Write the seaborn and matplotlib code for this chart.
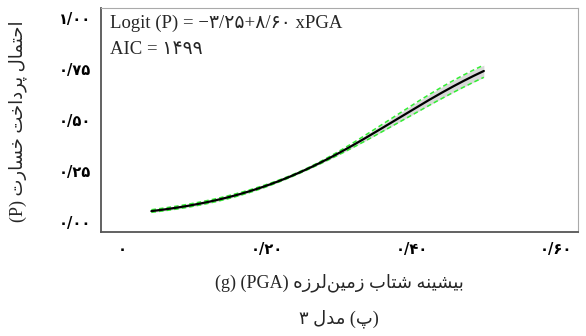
import numpy as np
import pandas as pd
import matplotlib
matplotlib.use("Agg")
import matplotlib.pyplot as plt
import seaborn as sns

# Fitted logistic model: Logit(P) = b0 + b1 * PGA
intercept = -3.25
slope = 8.60
aic = 1499
# Coefficient uncertainty (standard errors and covariance) for the 95% band
se_intercept = 0.0796
se_slope = 0.316
cov_b0_b1 = -0.0249
pga_start, pga_end = 0.04, 0.50

x_ticks = [0.0, 0.2, 0.4, 0.6]
x_tick_labels = ["۰", "۰/۲۰", "۰/۴۰", "۰/۶۰"]
y_ticks = [0.0, 0.25, 0.5, 0.75, 1.0]
y_tick_labels = ["۰/۰۰", "۰/۲۵", "۰/۵۰", "۰/۷۵", "۱/۰۰"]

y_title = "احتمال پرداخت خسارت"
x_title = "بیشینه شتاب زمین\u200cلرزه"
caption_word = "مدل"
caption_letter = "پ"
caption_num = "۳"

# --- Persian contextual shaping (matplotlib draws glyphs without shaping) ---
FORMS = {
    'ا': ('\uFE8D', '\uFE8E', None, None),
    'ب': ('\uFE8F', '\uFE90', '\uFE91', '\uFE92'),
    'پ': ('\uFB56', '\uFB57', '\uFB58', '\uFB59'),
    'ت': ('\uFE95', '\uFE96', '\uFE97', '\uFE98'),
    'ح': ('\uFEA1', '\uFEA2', '\uFEA3', '\uFEA4'),
    'خ': ('\uFEA5', '\uFEA6', '\uFEA7', '\uFEA8'),
    'د': ('\uFEA9', '\uFEAA', None, None),
    'ر': ('\uFEAD', '\uFEAE', None, None),
    'ز': ('\uFEAF', '\uFEB0', None, None),
    'س': ('\uFEB1', '\uFEB2', '\uFEB3', '\uFEB4'),
    'ش': ('\uFEB5', '\uFEB6', '\uFEB7', '\uFEB8'),
    'ل': ('\uFEDD', '\uFEDE', '\uFEDF', '\uFEE0'),
    'م': ('\uFEE1', '\uFEE2', '\uFEE3', '\uFEE4'),
    'ن': ('\uFEE5', '\uFEE6', '\uFEE7', '\uFEE8'),
    'ه': ('\uFEE9', '\uFEEA', '\uFEEB', '\uFEEC'),
    'ی': ('\uFBFC', '\uFBFD', '\uFBFE', '\uFBFF'),
}


def shape(text):
    out = []
    for i, ch in enumerate(text):
        if ch == '\u200c':
            continue
        if ch not in FORMS:
            out.append(ch)
            continue
        prev = text[i - 1] if i > 0 else ''
        nxt = text[i + 1] if i + 1 < len(text) else ''
        jp = prev in FORMS and FORMS[prev][2] is not None
        jn = FORMS[ch][2] is not None and nxt in FORMS
        iso, fin, ini, med = FORMS[ch]
        if jp and jn:
            out.append(med)
        elif jp:
            out.append(fin)
        elif jn:
            out.append(ini)
        else:
            out.append(iso)
    return ''.join(out)


def fa(text):
    """Shape a right-to-left phrase and put it in display order."""
    return shape(text)[::-1]


FA_DIGITS = str.maketrans("0123456789.", "۰۱۲۳۴۵۶۷۸۹/")


def fa_num(value, fmt):
    return format(value, fmt).translate(FA_DIGITS)


# --- model curve and confidence band ---
pga = np.linspace(pga_start, pga_end, 200)
eta = intercept + slope * pga
se = np.sqrt(se_intercept**2 + 2 * cov_b0_b1 * pga + se_slope**2 * pga**2)
expit = lambda z: 1.0 / (1.0 + np.exp(-z))
df = pd.DataFrame({
    "PGA": pga,
    "P": expit(eta),
    "lower": expit(eta - 1.96 * se),
    "upper": expit(eta + 1.96 * se),
})

sns.set_style("white")
plt.rcParams["font.family"] = ["Liberation Serif", "DejaVu Sans"]

fig = plt.figure(figsize=(5.86, 3.36), dpi=100)
ax = fig.add_axes([0.172, 0.310, 0.814, 0.666])

ax.fill_between(df["PGA"], df["lower"], df["upper"], color="#d0d0d0", alpha=0.8, lw=0)
sns.lineplot(data=df, x="PGA", y="lower", ax=ax, color="#33ee33", lw=1.1, linestyle=(0, (3, 2)))
sns.lineplot(data=df, x="PGA", y="upper", ax=ax, color="#33ee33", lw=1.1, linestyle=(0, (3, 2)))
sns.lineplot(data=df, x="PGA", y="P", ax=ax, color="black", lw=1.6)

ax.set_xlim(-0.03, 0.63)
ax.set_ylim(-0.05, 1.05)
ax.set_xticks(x_ticks)
ax.set_xticklabels(x_tick_labels, fontsize=10.5, family=["DejaVu Sans"], fontweight="bold")
ax.set_yticks(y_ticks)
ax.set_yticklabels(y_tick_labels, fontsize=10.5, family=["DejaVu Sans"], fontweight="bold")
ax.tick_params(axis="both", length=3, width=0.8, color="#888888", pad=4, labelcolor="black")
ax.set_xlabel("")
ax.set_ylabel("")

for side in ("left", "bottom"):
    ax.spines[side].set_color("#555555")
    ax.spines[side].set_linewidth(1.3)
for side in ("top", "right"):
    ax.spines[side].set_color("#aaaaaa")
    ax.spines[side].set_linewidth(0.8)

fam = ["Liberation Serif", "DejaVu Sans"]
eq = ("Logit (P) = \u2212" + fa_num(abs(intercept), ".2f") + "+" + fa_num(slope, ".2f") + " xPGA")
ax.text(0.02, 0.97, eq, transform=ax.transAxes, ha="left", va="top", fontsize=13.5, family=fam)
ax.text(0.02, 0.855, "AIC = " + fa_num(aic, "d"), transform=ax.transAxes, ha="left", va="top",
        fontsize=13.5, family=fam)

fig.text(0.03, 0.64, "(P) " + fa(y_title), rotation=90, ha="center", va="center",
         fontsize=13, family=fam)
fig.text(0.579, 0.16, "(g) (PGA) " + fa(x_title), ha="center", va="center",
         fontsize=13, family=fam)
fig.text(0.579, 0.052, caption_num + " " + fa(caption_word) + " (" + fa(caption_letter) + ")",
         ha="center", va="center", fontsize=13, family=fam)

fig.savefig("out.png", dpi=100)
